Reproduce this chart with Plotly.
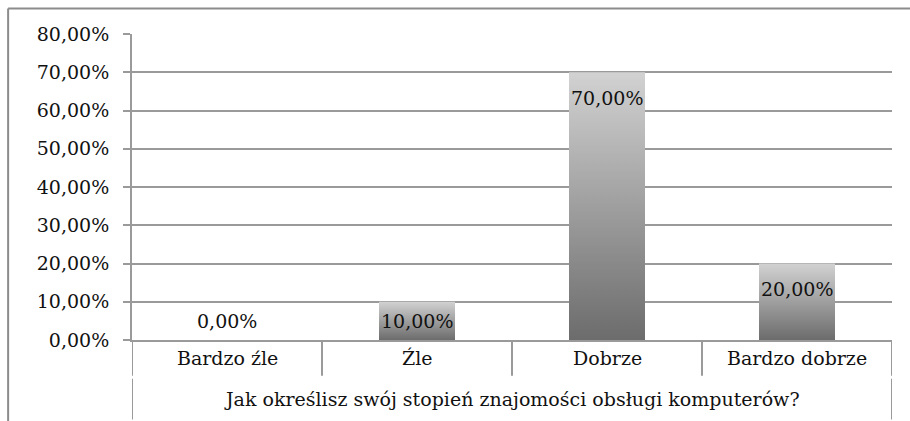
import plotly.graph_objects as go

categories = ["Bardzo źle", "Źle", "Dobrze", "Bardzo dobrze"]
values = [0.0, 0.10, 0.70, 0.20]
axis_title = "Jak określisz swój stopień znajomości obsługi komputerów?"
y_ticks = [0.0, 0.1, 0.2, 0.3, 0.4, 0.5, 0.6, 0.7, 0.8]

FONT = "DejaVu Serif"
FS = 19
GRID = "#9a9a9a"
BAR_W = 0.4

fig = go.Figure()

for i, v in enumerate(values):
    x0, x1 = i - BAR_W / 2, i + BAR_W / 2
    fig.add_trace(go.Scatter(
        x=[x0, x1, x1, x0, x0], y=[0, 0, v, v, 0],
        mode="lines", fill="toself", line=dict(width=0),
        fillgradient=dict(type="vertical",
                          colorscale=[[0, "#6c6c6c"], [1, "#d2d2d2"]]),
        hoverinfo="skip", showlegend=False))

def fmt(v):
    return f"{v*100:.2f}%".replace(".", ",")

for i, v in enumerate(values):
    ly = max(v - 0.066, 0.05)
    fig.add_annotation(x=i, y=ly, xref="x", yref="y", text=fmt(v),
                       showarrow=False, font=dict(family=FONT, size=FS, color="#111"))

# category labels
for i, c in enumerate(categories):
    fig.add_annotation(x=i, y=-0.059, xref="x", yref="paper", text=c,
                       showarrow=False, yanchor="middle",
                       font=dict(family=FONT, size=FS, color="#111"))
fig.add_annotation(x=(len(categories) - 1) / 2, y=-0.193, xref="x", yref="paper",
                   text=axis_title, showarrow=False, yanchor="middle",
                   font=dict(family=FONT, size=FS, color="#111"))

shapes = []
row1 = -0.121
row2 = -0.26
for k in range(len(categories) + 1):
    xb = k - 0.5
    shapes.append(dict(type="line", xref="x", yref="paper", x0=xb, x1=xb,
                       y0=0, y1=row1 + 0.004, line=dict(color=GRID, width=2)))
    if k == 0 or k == len(categories):
        shapes.append(dict(type="line", xref="x", yref="paper", x0=xb, x1=xb,
                           y0=row1 - 0.006, y1=row2, line=dict(color=GRID, width=2)))
# outer chart border (only top and left edges are visible in the frame)
shapes.append(dict(type="line", xref="paper", yref="paper",
                   x0=-0.163, x1=1.0237, y0=1.083, y1=1.083,
                   line=dict(color="#8c8c8c", width=2)))
shapes.append(dict(type="line", xref="paper", yref="paper",
                   x0=-0.163, x1=-0.163, y0=1.083, y1=-0.3,
                   line=dict(color="#8c8c8c", width=2)))

fig.update_layout(
    width=910, height=421,
    margin=dict(l=132, r=18, t=34, b=81),
    paper_bgcolor="white", plot_bgcolor="white",
    separators=", ",
    shapes=shapes,
    font=dict(family=FONT, size=FS, color="#111"),
    xaxis=dict(range=[-0.5, len(categories) - 0.5], showticklabels=False,
               showgrid=False, zeroline=False, showline=True,
               linecolor=GRID, linewidth=2, ticks="", fixedrange=True),
    yaxis=dict(range=[0, 0.8], tickvals=y_ticks, tickformat=".2%",
               showgrid=True, gridcolor=GRID, gridwidth=2,
               zeroline=False, showline=True, linecolor=GRID, linewidth=2,
               ticks="outside", ticklen=7, tickwidth=2, tickcolor=GRID,
               ticklabelstandoff=10, automargin=False,
               tickfont=dict(family=FONT, size=FS, color="#111")),
)

fig.write_html("out.html", config={"displayModeBar": False},
               post_script="document.body.style.margin='0';document.body.style.overflow='hidden';")
